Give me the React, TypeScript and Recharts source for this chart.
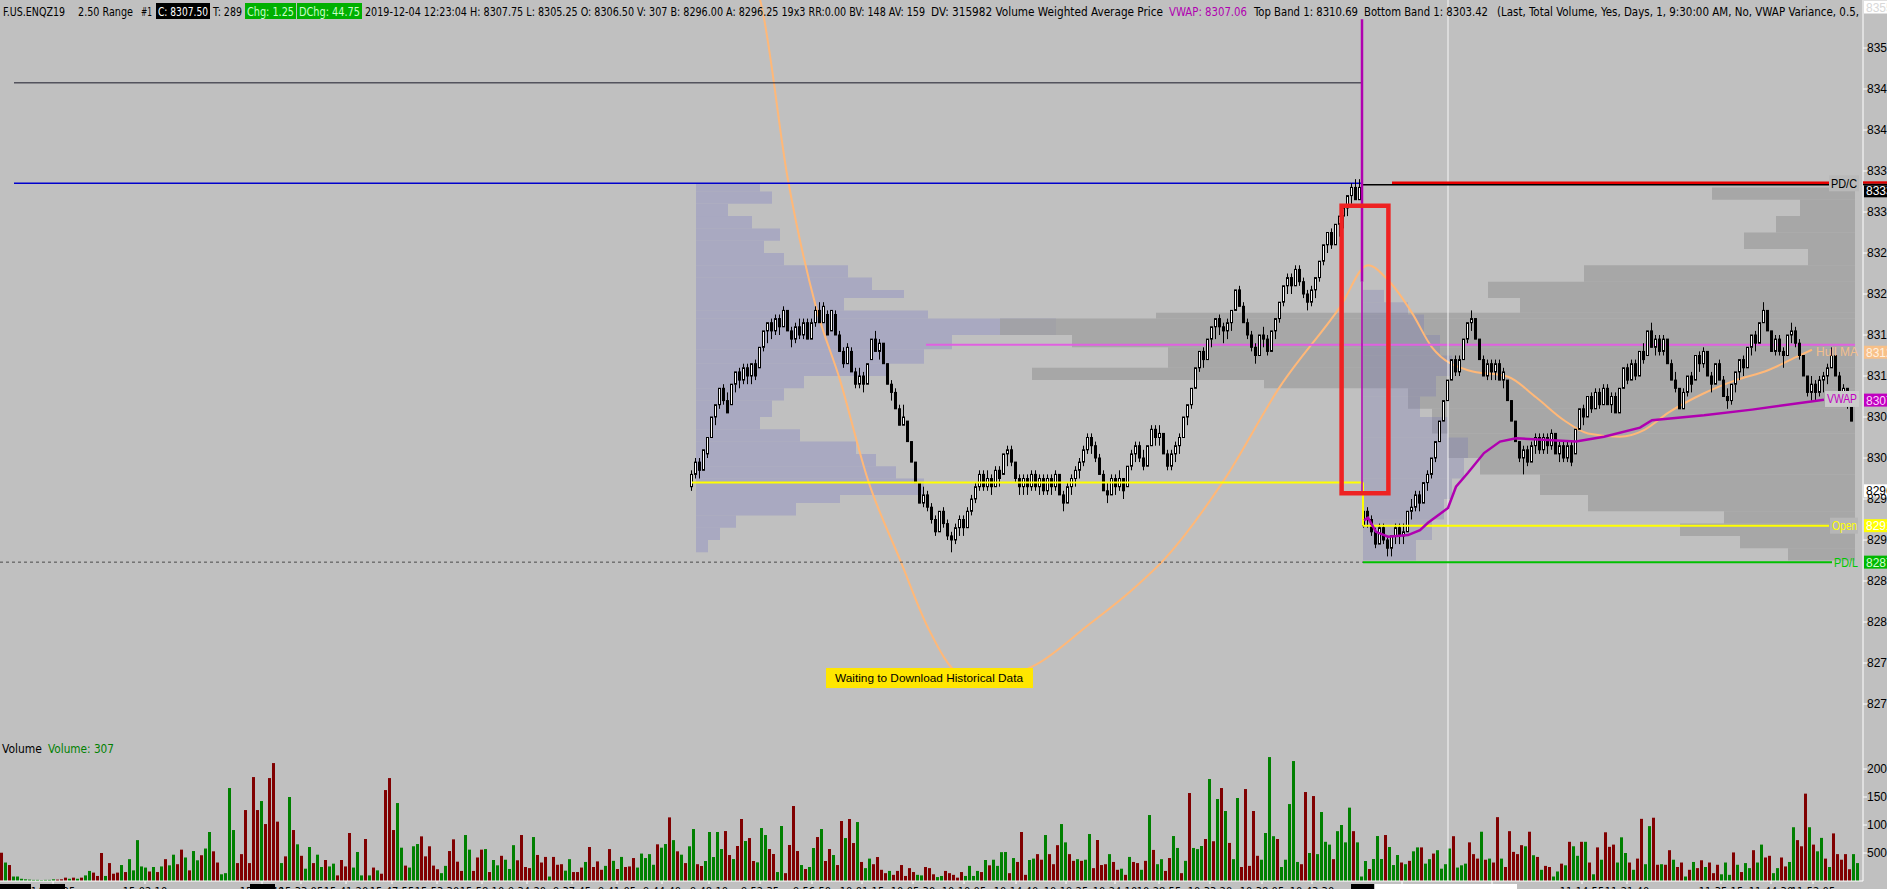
import React from 'react';
import { ComposedChart, Bar, Line, XAxis, YAxis, ReferenceLine, ReferenceArea, ReferenceDot } from 'recharts';

// ---------- layout constants ----------
const CHART_W = 1887;
const PRICE_H = 740;
const VOLUME_H = 149;
const AXIS_FONT = "'Liberation Sans', Arial, sans-serif";
const HEADER_FONT = "'Liberation Sans Narrow', 'DejaVu Sans Condensed', 'Liberation Sans', sans-serif";

// ---------- axes ----------
const slotDomain: [number, number] = [0, 465.75];
const priceDomain: [number, number] = [8265.61, 8355.854];
const volumeDomain: [number, number] = [0, 2517.86];
const priceTicks = [8270, 8275, 8280, 8285, 8290, 8295, 8300, 8305, 8310, 8315, 8320, 8325, 8330, 8335, 8340, 8345, 8350];
const volumeTicks = [500, 1000, 1500, 2000];
const timeTickSlots = [13.25, 36.25, 65.5, 75.25, 86.5, 98, 109.25, 120.5, 131.75, 143, 154.25, 165.5, 177.25, 190, 203, 215.5, 228.25, 241, 254, 266.5, 278.75, 289.75, 302.5, 315.5, 328, 350.5, 373, 395.5, 406.75, 430.25, 442.75, 453.25];
const timeTickLabels = ['14:45:35', '15:02:10', '15:21:40', '15:33:05', '15:41:20', '15:47:55', '15:53:30', '15:58:10', '9:34:20', '9:37:45', '9:41:05', '9:44:40', '9:48:10', '9:52:35', '9:56:50', '10:01:15', '10:05:30', '10:10:05', '10:14:40', '10:19:25', '10:24:10', '10:28:55', '10:33:20', '10:38:05', '10:43:30', '10:52:45', '11:03:20', '11:14:55', '11:21:40', '11:35:15', '11:44:30', '11:52:05'];

// ---------- 2.50 range bars [open, high, low, close] ----------
const firstCandleSlot = 173;
const rangeBars: [number, number, number, number][] = [
  [8296.5,8298.5,8296,8298],[8298,8300,8297.5,8299.5],[8299.5,8300,8297.5,8298.5],[8298.5,8301,8298.5,8301],[8300.5,8302.5,8300,8302.5],[8302.5,8305,8302.5,8305],
  [8305,8306.5,8304,8306.5],[8306.5,8308.5,8306,8308.5],[8308.5,8309,8306.5,8307],[8307,8308,8305.5,8305.5],[8306.5,8309,8306.5,8309],[8309,8310.5,8308,8310.5],
  [8310.5,8311,8308.5,8309.5],[8309.5,8311.5,8309,8311],[8311,8311.5,8309,8310],[8310,8311.5,8309,8311.5],[8311.5,8312,8309.5,8310],[8311,8313.5,8311,8313.5],
  [8313.5,8315.5,8313,8315.5],[8315.5,8316.5,8314,8316.5],[8316.5,8317,8314.5,8315.5],[8315.5,8317.5,8315,8317],[8317,8317.5,8315,8316],[8316,8318.5,8316,8318],
  [8318,8318,8315.5,8315.5],[8315.5,8316,8313.5,8314.5],[8314.5,8316.5,8314,8316],[8316,8317,8314.5,8315],[8315,8317,8314.5,8316.5],[8316.5,8317,8314.5,8314.5],
  [8314.5,8317,8314.5,8316.5],[8316.5,8318.5,8316,8318],[8318,8319,8316.5,8316.5],[8316.5,8319,8316.5,8318.5],[8317.5,8318,8315,8315],[8315.5,8318,8315.5,8318],
  [8317.5,8318,8315,8315],[8315,8315.5,8313,8313],[8313,8313.5,8311,8311.5],[8311.5,8314,8311.5,8313.5],[8313,8313.5,8310.5,8310.5],[8310.5,8311,8308.5,8309],
  [8309,8311,8308.5,8310],[8310,8310.5,8308,8309],[8309,8311.5,8309,8311.5],[8312,8314.5,8312,8314.5],[8314.5,8315.5,8313,8313],[8313,8314.5,8312,8314],
  [8314,8314,8311.5,8311.5],[8311.5,8311.5,8309,8309],[8309,8309.5,8307,8308],[8308,8308.5,8306,8306],[8306,8306.5,8304,8304],[8304,8306.5,8304,8305],
  [8304.5,8304.5,8302,8302],[8302,8302,8299.5,8299.5],[8299.5,8299.5,8297,8297],[8297,8297,8294.5,8294.5],[8294.5,8296.5,8294,8295.5],[8295.5,8296,8293.5,8294],
  [8294,8294.5,8292,8292.5],[8292.5,8293,8290.5,8291],[8291,8293.5,8291,8293.5],[8293.5,8294,8291.5,8292],[8292,8292.5,8290,8290.5],[8290.5,8291,8288.5,8290],
  [8290,8292,8289.5,8291.5],[8291.5,8293,8290.5,8292.5],[8292.5,8293,8290.5,8291.5],[8291.5,8294,8291.5,8293.5],[8293.5,8295.5,8293,8295],[8295,8297,8294.5,8296.5],
  [8296.5,8298.5,8296,8298],[8298,8298.5,8296,8296.5],[8296.5,8298.5,8296,8297.5],[8297.5,8298,8295.5,8296.5],[8296.5,8299,8296.5,8298.5],[8298.5,8299,8296.5,8297.5],
  [8298,8300.5,8298,8300.5],[8300.5,8301.5,8299,8301],[8301,8301.5,8299,8299.5],[8299.5,8299.5,8297,8297.5],[8297.5,8298,8295.5,8296.5],[8296.5,8298,8295.5,8297.5],
  [8297.5,8298,8295.5,8296.5],[8296.5,8298.5,8296,8298],[8298,8298.5,8296,8296.5],[8296.5,8298,8295.5,8297.5],[8297.5,8298,8295.5,8296],[8296,8298,8295.5,8297.5],
  [8297.5,8298,8295.5,8296.5],[8296.5,8298.5,8296,8298],[8298,8298,8295.5,8295.5],[8295.5,8296,8293.5,8294.5],[8294.5,8297,8294.5,8296.5],[8296.5,8298,8295.5,8297.5],
  [8297.5,8299,8296.5,8298.5],[8298.5,8300,8297.5,8299.5],[8299.5,8301.5,8299,8301],[8301,8303,8300.5,8302.5],[8302.5,8303,8300.5,8301.5],[8301.5,8302,8299.5,8300],
  [8300,8300.5,8298,8298],[8298,8298.5,8296,8296],[8296,8297,8294.5,8295.5],[8295.5,8298,8295.5,8297.5],[8297.5,8298,8295.5,8296.5],[8296.5,8298.5,8296,8297.5],
  [8297.5,8297.5,8295,8296],[8296.5,8299,8296.5,8299],[8299,8301,8298.5,8300.5],[8300.5,8302,8299.5,8301.5],[8301.5,8302,8299.5,8300],[8300,8301,8298.5,8299],
  [8299,8301.5,8299,8301.5],[8301.5,8304,8301.5,8303.5],[8303.5,8304,8301.5,8302.5],[8302.5,8304,8301.5,8303],[8303,8303,8300.5,8300.5],[8300.5,8301,8298.5,8299],
  [8299,8301,8298.5,8300.5],[8300.5,8302,8299.5,8301.5],[8301.5,8303,8300.5,8302.5],[8302.5,8305,8302.5,8305],[8305,8306.5,8304,8306.5],[8306.5,8308.5,8306,8308.5],
  [8308.5,8311,8308.5,8311],[8311,8313,8310.5,8313],[8313,8313.5,8311,8312],[8312,8314.5,8312,8314.5],[8314.5,8316,8313.5,8316],[8316,8317,8314.5,8317],
  [8317,8317.5,8315,8316],[8316,8316.5,8314,8315.5],[8315.5,8317,8314.5,8316.5],[8316.5,8318,8315.5,8318],[8318,8320.5,8318,8320.5],[8320.5,8321,8318.5,8318.5],
  [8318.5,8319,8316.5,8316.5],[8316.5,8317,8314.5,8315],[8315,8315.5,8313,8313.5],[8313.5,8314,8311.5,8312.5],[8312.5,8315,8312.5,8315],[8315,8316,8313.5,8314.5],
  [8314.5,8315,8312.5,8313],[8313,8315.5,8313,8315.5],[8315.5,8317,8314.5,8317],[8317,8319,8316.5,8319],[8319,8321,8318.5,8321],[8321,8322.5,8320,8322],
  [8322,8322.5,8320,8321],[8321,8323.5,8321,8323],[8323,8323.5,8321,8321.5],[8321.5,8322,8319.5,8320],[8320,8320.5,8318,8319],[8319,8321,8318.5,8320.5],
  [8320.5,8322,8319.5,8322],[8322,8324,8321.5,8324],[8324,8326,8323.5,8326],[8326,8327.5,8325,8327.5],[8327.5,8328,8325.5,8326],[8326,8328.5,8326,8328.5],
  [8328.5,8329.5,8327,8329.5],[8329.5,8330.5,8328,8330.5],[8330.5,8332,8329.5,8332],[8332,8333.5,8331,8333],[8333,8334,8331.5,8331.5],[8331.5,8334,8331.5,8333],
  [8291.75,8294,8291.5,8293.5],[8293.5,8294,8291.5,8292.5],[8292.5,8293,8290.5,8291],[8291,8291.5,8289,8289.5],[8289.5,8292,8289.5,8291.5],[8291.5,8292,8289.5,8290],
  [8290,8290.5,8288,8289],[8289,8290.5,8288,8290.5],[8290.5,8292,8289.5,8291.5],[8291.5,8292,8289.5,8290.5],[8290.5,8292,8289.5,8291],[8291,8293.5,8291,8293.5],
  [8293.5,8295,8292.5,8294],[8294,8296,8293.5,8295.5],[8295.5,8296,8293.5,8294.5],[8294.5,8297,8294.5,8297],[8297,8298.5,8296,8298],[8298,8300,8297.5,8300],
  [8300,8302,8299.5,8302],[8302,8304.5,8302,8304.5],[8304.5,8307,8304.5,8307],[8307,8309.5,8307,8309.5],[8309.5,8312,8309.5,8312],[8312,8312.5,8310,8310.5],
  [8310.5,8312.5,8310,8312],[8312,8314.5,8312,8314.5],[8314.5,8316.5,8314,8316.5],[8316.5,8318,8315.5,8317],[8317,8317,8314.5,8314.5],[8314.5,8314.5,8312,8312],
  [8312,8312.5,8310,8310],[8310,8312,8309.5,8311.5],[8311.5,8312,8309.5,8310.5],[8310.5,8312,8309.5,8311.5],[8311.5,8312,8309.5,8309.5],[8309.5,8311,8308.5,8310.5],
  [8309.5,8309.5,8307,8307],[8307,8307,8304.5,8304.5],[8304.5,8304.5,8302,8302],[8302,8302,8299.5,8300],[8300,8301.5,8298,8301],[8301,8301.5,8299,8299.5],
  [8299.5,8302,8299.5,8301.5],[8301.5,8303,8300.5,8302.5],[8302.5,8303,8300.5,8301],[8301,8303,8300.5,8302.5],[8302.5,8303,8300.5,8301.5],[8301.5,8303.5,8301,8303],
  [8303,8303,8300.5,8300.5],[8300.5,8302,8299.5,8301.5],[8301.5,8302,8299.5,8300],[8300,8302,8299.5,8301.5],[8301.5,8302,8299,8299.5],[8300.5,8303.5,8300.5,8303.5],
  [8303.5,8306,8303.5,8306],[8306,8306.5,8304,8305],[8305,8307.5,8305,8307.5],[8307.5,8308,8305.5,8306],[8306,8308.5,8306,8308],[8308,8308.5,8306,8306.5],
  [8306.5,8309,8306.5,8308.5],[8308.5,8309,8306.5,8306.5],[8306.5,8308,8305.5,8307.5],[8307.5,8308,8305.5,8305.5],[8305.5,8308.5,8305.5,8308.5],[8308.5,8311,8308.5,8311],
  [8311,8311.5,8309,8309.5],[8309.5,8312,8309.5,8311.5],[8311.5,8312,8309.5,8310],[8310,8313,8310,8313],[8313,8314,8311.5,8312],[8312.5,8315.5,8312.5,8315.5],
  [8315.5,8316.5,8313.5,8313.5],[8313.5,8315,8312.5,8314.5],[8314.5,8315,8312.5,8313],[8313,8315,8312.5,8314.5],[8314.5,8314.5,8311.5,8311.5],[8311.5,8312,8309.5,8309.5],
  [8309.5,8310.5,8308,8308.5],[8308.5,8308.5,8306,8306],[8306,8308.5,8306,8308],[8308,8310,8307.5,8310],[8310,8310.5,8308,8309],[8309.5,8312.5,8309.5,8312.5],
  [8312.5,8313,8310.5,8311.5],[8311.5,8313.5,8311,8313],[8313,8313,8310,8310],[8310,8310.5,8308,8309],[8309,8311.5,8309,8311.5],[8311.5,8312,8309.5,8309.5],
  [8309.5,8310,8307.5,8307.5],[8307.5,8308.5,8306,8307],[8307,8309,8306.5,8309],[8309,8310.5,8308,8310.5],[8310.5,8312,8309.5,8312],[8312,8312.5,8310,8311],
  [8311,8313.5,8311,8313.5],[8313.5,8315,8312.5,8315],[8315,8315.5,8313,8314],[8314,8316.5,8314,8316.5],[8316.5,8319,8316.5,8318],[8318,8318,8315.5,8315.5],
  [8315.5,8315.5,8313,8313],[8313,8315,8312.5,8314.5],[8314.5,8315,8312.5,8313],[8313,8313.5,8311,8312.5],[8312.5,8315,8312.5,8315],[8315,8316.5,8314,8315.5],
  [8315.5,8316,8313.5,8314],[8314,8314.5,8312,8312.5],[8312.5,8312.5,8310,8310],[8310,8310,8307.5,8308],[8308,8310,8307,8309],[8309,8309.5,8307,8308],
  [8308,8310,8307.5,8309.5],[8309.5,8310.5,8308,8310],[8310,8311.5,8309,8311],[8311,8313.5,8311,8312.5],[8312.5,8312.5,8310,8310],[8310,8310.5,8308,8308],
  [8308,8309,8306.5,8308.5],[8308.5,8308.5,8306,8307],[8307,8307.5,8304.5,8304.5],
];

// ---------- volume per slot (positive = up bar, negative = down bar) ----------
const volumeBars = [
  -505,330,-285,80,80,40,30,25,20,20,
  15,20,20,30,-25,-30,-60,40,-60,40,
  -60,100,180,-150,-90,-500,90,-320,-130,-150,
  285,-160,390,190,730,260,240,-170,250,-160,
  260,-390,280,470,-300,-560,420,-190,535,370,
  -460,580,875,-530,-330,120,140,1660,910,-320,
  -480,-1267,-320,-1856,-1267,1428,-1017,-1838,-2106,-1060,
  320,-440,1500,-910,655,-450,220,607,-320,470,
  250,-375,260,310,-100,-375,-260,-857,240,518,
  100,-750,100,-240,190,-130,-1624,-1838,-910,1392,
  595,-275,240,620,660,-797,-440,-620,-275,-210,
  140,270,-535,-744,-345,-180,821,560,-180,-420,
  -560,570,-160,375,280,-450,380,215,640,-370,
  -821,-250,-230,785,-465,-330,-430,80,-430,-290,
  -300,185,390,-160,-160,-240,340,-607,-250,-350,
  -200,270,-570,360,-214,430,-250,-260,-410,240,
  490,410,480,290,-655,595,660,-1136,730,-530,
  470,-320,620,928,-300,-268,357,875,428,875,
  571,-892,-464,392,-625,-1107,714,-767,-357,333,
  946,821,-571,-482,160,982,-140,-643,-1339,-535,
  285,-214,250,589,-785,928,-357,-571,464,-285,
  -1071,767,-1107,-678,1053,-340,230,400,-300,-428,
  -200,-140,180,-110,-180,-285,-90,-230,-160,110,
  100,-250,-230,-120,70,90,-180,-140,-110,-60,
  -160,90,270,90,180,-160,375,-280,380,270,
  515,518,-140,410,-340,-875,-110,375,400,-480,
  -380,821,-480,-300,-640,1017,690,-480,-360,390,
  -360,380,839,-230,-732,-285,-300,480,-340,-200,
  220,-110,430,-340,-320,200,-360,1178,-555,300,
  390,-180,-410,803,590,-140,360,-1571,590,570,
  625,-750,1821,-710,1464,-1660,1250,-680,390,1482,
  -250,-1642,-270,-1250,-450,380,857,2213,800,-750,
  250,380,1374,2142,340,-300,-1589,500,-1517,480,
  1232,700,650,-390,890,1000,690,1310,-890,690,
  80,357,-214,393,803,393,-821,607,285,464,
  -330,300,-360,530,600,-600,310,390,-490,550,
  220,300,580,-800,240,280,310,-690,-480,-400,
  880,-380,400,-330,-1140,400,-250,-890,-520,-480,
  -640,620,-880,460,-430,200,-270,-250,80,170,
  -310,280,-700,620,450,-700,700,-330,120,-600,
  380,-870,-610,-650,330,780,500,-330,200,-400,
  -1110,300,980,-1130,-290,300,-290,-550,380,-250,
  -330,80,-200,340,-230,-370,250,-330,-140,-290,
  120,330,110,-510,290,-160,320,230,-550,330,
  650,-420,-450,140,230,-420,-260,340,960,-730,
  -620,-1560,960,-650,530,770,-400,250,-850,-480,
  -380,-480,-210,480,320,
];

// ---------- Hull MA and VWAP [slot, price] ----------
const hullPoints: [number, number][] = [
  [183, 8362], [190, 8355.9], [197, 8333.9], [204, 8318.4], [210, 8309.5], [217, 8297.3], [225, 8287.6], [232, 8279.3], [240, 8273.6], [247, 8272.9],
  [259, 8274.8], [272, 8279.6], [283, 8283.9], [291, 8287.6], [306, 8297.3], [320, 8308.7], [335, 8318.4], [342, 8323.5], [347, 8321.7], [353, 8317.7],
  [358, 8313.5], [367, 8310.7], [377, 8309.9], [384, 8307.4], [391, 8304.6], [397, 8303.0], [405, 8302.6], [411, 8303.4], [417, 8305.5], [426, 8307.9],
  [434, 8309.5], [442, 8310.7], [449, 8312.3], [453, 8313.2],
];
const vwapPoints: [number, number][] = [
  [341, 8292.4], [342, 8292.7], [344, 8291.0], [347, 8290.4], [352, 8290.6], [355, 8291.2], [357, 8292.1], [362, 8293.9], [364, 8296.5], [367, 8298.2],
  [371, 8300.6], [375, 8302.0], [379, 8302.4], [394, 8302.0], [401, 8302.6], [410, 8303.7], [413, 8304.6], [426, 8305.2], [438, 8305.9], [456, 8307.1],
];

// ---------- volume profiles [top price, bottom price, extent slot] ----------
const priorProfileStart = 174;
const priorProfile: [number, number, number][] = [
  [8333.5, 8332.5, 190], [8332.5, 8331, 193], [8331, 8329.5, 182], [8329.5, 8328, 188], [8328, 8326.5, 195], [8326.5, 8325, 191],
  [8325, 8323.5, 196], [8323.5, 8322, 212], [8322, 8320.5, 218], [8320.5, 8319.5, 226], [8319.5, 8318, 211], [8318, 8317, 232],
  [8317, 8315, 264], [8315, 8313.25, 238], [8313.25, 8311.5, 231], [8311.5, 8310, 222], [8310, 8308.5, 201], [8308.5, 8307, 196],
  [8307, 8305, 193], [8305, 8303.5, 190], [8303.5, 8302, 200], [8302, 8300.5, 214], [8300.5, 8299, 219], [8299, 8297.5, 224],
  [8297.5, 8295.5, 231], [8295.5, 8294.5, 210], [8294.5, 8293, 199], [8293, 8291.5, 184], [8291.5, 8290, 180], [8290, 8288.5, 177],
];
const compositeProfileEnd = 463.75;
const compositeProfile: [number, number, number][] = [
  [8333, 8331.5, 428], [8331.5, 8329.5, 450], [8329.5, 8327.5, 444], [8327.5, 8325.5, 436], [8325.5, 8323.5, 452], [8323.5, 8321.5, 396],
  [8321.5, 8319.5, 372], [8319.5, 8317.7, 380], [8317.7, 8317, 289], [8317, 8315, 250], [8315, 8313.5, 268], [8313.5, 8311, 292],
  [8311, 8309.5, 258], [8309.5, 8308.5, 316], [8308.5, 8306, 352], [8306, 8303, 358], [8303, 8300, 362], [8300, 8298, 370],
  [8298, 8295.5, 385], [8295.5, 8293.5, 397], [8293.5, 8292, 431], [8292, 8290.5, 420], [8290.5, 8289, 435], [8289, 8287.5, 447],
];
const sessionProfileStart = 340.75;
const sessionProfile: [number, number, number][] = [
  [8320.5, 8319, 346], [8319, 8317.5, 352], [8317.5, 8315, 356], [8315, 8312.5, 360], [8312.5, 8310, 363], [8310, 8307.5, 359],
  [8307.5, 8305, 355], [8305, 8302.5, 362], [8302.5, 8300, 367], [8300, 8297.5, 366], [8297.5, 8295, 363], [8295, 8292.5, 361],
  [8292.5, 8290, 358], [8290, 8287.5, 354],
];

// ---------- key levels ----------
const levelPriorHigh = 8345.75;
const levelPDC = 8333.5;
const levelHullBand = 8313.8;
const levelPriorOpen = 8297;
const levelOpen = 8291.75;
const levelPDL = 8287.3;
const sessionBreakSlot = 340.5;
const cursorSlot = 362;

// ---------- tables built for recharts ----------
const priceRows: any[] = Array.from({ length: 466 }, (_, x) => ({ x }));
rangeBars.forEach(([o, h, l, c], i) => {
  Object.assign(priceRows[firstCandleSlot + i], { o, h, l, c, range: [l, h] });
});
hullPoints.forEach(([x, p]) => { priceRows[x].hull = p; });
vwapPoints.forEach(([x, p]) => { priceRows[x].vwap = p; });
const volumeRows = volumeBars.map((v, s) => ({ x: s + 0.5, vol: Math.abs(v), up: v > 0 }));

// ---------- shapes ----------
function CandleShape(props: any) {
  const { x, y, width, height, payload } = props;
  if (!payload || payload.o == null || !Number.isFinite(y) || !Number.isFinite(height) || height <= 0) return null;
  const { o, h, l, c } = payload;
  const k = height / (h - l);
  const cx = x + width / 2;
  const top = y + (h - Math.max(o, c)) * k;
  const bh = Math.max(1, Math.abs(c - o) * k);
  const up = c >= o;
  return (
    <g>
      <line x1={cx} x2={cx} y1={y} y2={y + height} stroke="#000" strokeWidth={1} />
      <rect x={x + 0.5} y={top} width={Math.max(1, width - 1)} height={bh} fill={up ? '#FFFFFF' : '#000000'} stroke="#000" strokeWidth={1} />
    </g>
  );
}

function VolumeShape(props: any) {
  const { x, y, width, height, payload } = props;
  if (!payload || !Number.isFinite(y) || !(height > 0)) return null;
  return <rect x={x} y={y} width={width} height={height} fill={payload.up ? '#008000' : '#800000'} />;
}

const lineTag = (text: string, color: string, bg: string | null, left: number, right: number, textW: number) => (p: any) => {
  const { cx, cy } = p;
  return (
    <g>
      {bg && <rect x={cx - left} y={cy - 8} width={left - right} height={16} fill={bg} />}
      <text x={cx - left + 2} y={cy + 4.5} fill={color} fontSize={13} fontFamily={AXIS_FONT} textLength={textW} lengthAdjust="spacingAndGlyphs">{text}</text>
    </g>
  );
};

const axisTag = (text: string, bg: string, fg: string, dy = 0) => (p: any) => {
  const { cx, cy } = p;
  return (
    <g>
      <rect x={cx + 1} y={cy - 6.5 + dy} width={24} height={13} fill={bg} />
      <text x={cx + 3} y={cy + 4.5 + dy} fill={fg} fontSize={12} fontFamily={AXIS_FONT}>{text}</text>
    </g>
  );
};

const pdcAxisTag = (p: any) => {
  const { cx, cy } = p;
  return (
    <g>
      <rect x={cx} y={cy - 2} width={24} height={2.5} fill="#E00000" />
      <rect x={cx} y={cy + 0.5} width={24} height={1.5} fill="#000" />
      <rect x={cx + 1} y={cy + 2} width={24} height={12} fill="#000" />
      <text x={cx + 3} y={cy + 12} fill="#FFFFFF" fontSize={12} fontFamily={AXIS_FONT}>8333</text>
    </g>
  );
};

const headerSegments = [
  { x: 3, w: 62, text: 'F.US.ENQZ19', color: '#000' },
  { x: 78, w: 55, text: '2.50 Range', color: '#000' },
  { x: 141, w: 11, text: '#1', color: '#000' },
  { x: 158, w: 50, text: 'C: 8307.50', color: '#FFFFFF' },
  { x: 213, w: 29, text: 'T: 289', color: '#000' },
  { x: 247, w: 47, text: 'Chg: 1.25', color: '#C8FFC8' },
  { x: 299, w: 61, text: 'DChg: 44.75', color: '#C8FFC8' },
  { x: 365, w: 560, text: '2019-12-04 12:23:04 H: 8307.75 L: 8305.25 O: 8306.50 V: 307 B: 8296.00 A: 8296.25 19x3 RR:0.00 BV: 148 AV: 159', color: '#000' },
  { x: 931, w: 232, text: 'DV: 315982 Volume Weighted Average Price', color: '#000' },
  { x: 1169, w: 78, text: 'VWAP: 8307.06', color: '#B000B0' },
  { x: 1254, w: 104, text: 'Top Band 1: 8310.69', color: '#000' },
  { x: 1364, w: 124, text: 'Bottom Band 1: 8303.42', color: '#000' },
  { x: 1497, w: 362, text: '(Last, Total Volume, Yes, Days, 1, 9:30:00 AM, No, VWAP Variance, 0.5,', color: '#000' },
];

export default function App() {
  const axisTick = { fill: '#000', fontSize: 12, fontFamily: AXIS_FONT };
  const timeTick = { fill: '#000', fontSize: 11, fontFamily: HEADER_FONT };
  return (
    <div style={{ position: 'fixed', left: 0, top: 0, width: CHART_W, height: 889, background: '#C0C0C0', overflow: 'hidden' }}>
      <div style={{ position: 'absolute', left: 0, top: 0 }}>
        <ComposedChart width={CHART_W} height={PRICE_H} data={priceRows} margin={{ top: 0, right: 0, bottom: 0, left: 0 }}>
          <XAxis type="number" dataKey="x" domain={slotDomain} allowDataOverflow hide />
          <YAxis orientation="right" type="number" domain={priceDomain} allowDataOverflow ticks={priceTicks} interval={0} width={24}
            axisLine={{ stroke: '#FFFFFF' }} tickLine={{ stroke: '#FFFFFF' }} tickSize={4} tickMargin={0} tick={axisTick} />

          {priorProfile.map(([t, b, r], i) => (
            <ReferenceArea key={'pp' + i} x1={priorProfileStart} x2={r} y1={b} y2={t} fill="#9F9FC2" fillOpacity={0.7} stroke="none" zIndex={10} />
          ))}
          {compositeProfile.map(([t, b, l], i) => (
            <ReferenceArea key={'cp' + i} x1={l} x2={compositeProfileEnd} y1={b} y2={t} fill="#A0A0A0" fillOpacity={0.78} stroke="none" zIndex={11} />
          ))}
          {sessionProfile.map(([t, b, r], i) => (
            <ReferenceArea key={'sp' + i} x1={sessionProfileStart} x2={r} y1={b} y2={t} fill="#7878B4" fillOpacity={0.3} stroke="none" zIndex={12} />
          ))}

          <Line dataKey="hull" type="monotone" stroke="#FFB878" strokeWidth={2} dot={false} activeDot={false} connectNulls isAnimationActive={false} zIndex={20} />

          <ReferenceLine segment={[{ x: 0, y: levelPDL }, { x: sessionBreakSlot + 0.25, y: levelPDL }]} stroke="#4A4A4A" strokeDasharray="3 3" strokeWidth={1} zIndex={30} />
          <ReferenceLine segment={[{ x: 3.5, y: levelPriorHigh }, { x: sessionBreakSlot, y: levelPriorHigh }]} stroke="#1A1A2A" strokeWidth={1} zIndex={30} />
          <ReferenceLine segment={[{ x: 3.5, y: levelPDC }, { x: sessionBreakSlot, y: levelPDC }]} stroke="#0000CC" strokeWidth={1.5} zIndex={30} />
          <ReferenceLine segment={[{ x: 231.5, y: levelHullBand }, { x: 463.75, y: levelHullBand }]} stroke="#E060E0" strokeWidth={2} zIndex={30} />
          <ReferenceLine x={cursorSlot} stroke="#F6F6F6" strokeWidth={1} zIndex={35} />

          <Bar dataKey="range" barSize={3} shape={CandleShape} isAnimationActive={false} zIndex={40} />

          <ReferenceLine segment={[{ x: firstCandleSlot, y: levelPriorOpen }, { x: sessionBreakSlot + 0.25, y: levelPriorOpen }]} stroke="#FFFF00" strokeWidth={2} zIndex={50} />
          <ReferenceLine segment={[{ x: sessionBreakSlot + 0.25, y: levelPriorOpen }, { x: sessionBreakSlot + 0.25, y: levelOpen }]} stroke="#FFFF00" strokeWidth={2} zIndex={50} />
          <ReferenceLine segment={[{ x: sessionBreakSlot + 0.25, y: levelOpen }, { x: 457.25, y: levelOpen }]} stroke="#FFFF00" strokeWidth={2} zIndex={50} />
          <ReferenceLine segment={[{ x: sessionBreakSlot + 0.25, y: levelPDL }, { x: 458, y: levelPDL }]} stroke="#00C000" strokeWidth={2} zIndex={50} />
          <ReferenceLine segment={[{ x: sessionBreakSlot, y: 8333.32 }, { x: 463.75, y: 8333.32 }]} stroke="#000000" strokeWidth={1.5} zIndex={50} />
          <ReferenceLine segment={[{ x: 348, y: 8333.58 }, { x: 463.75, y: 8333.58 }]} stroke="#E80000" strokeWidth={2.5} zIndex={51} />

          <Line dataKey="vwap" type="linear" stroke="#B000B0" strokeWidth={2.5} dot={false} activeDot={false} connectNulls isAnimationActive={false} zIndex={60} />

          <ReferenceLine segment={[{ x: sessionBreakSlot, y: 8353.5 }, { x: sessionBreakSlot, y: 8321.5 }]} stroke="#B000B0" strokeWidth={2.5} zIndex={65} />
          <ReferenceLine segment={[{ x: sessionBreakSlot, y: 8321.5 }, { x: sessionBreakSlot, y: 8295.7 }]} stroke="#B000B0" strokeWidth={1.5} zIndex={65} />

          <ReferenceArea x1={335.4} x2={347.1} y1={8295.7} y2={8330.75} fill="none" fillOpacity={0} stroke="#EE2222" strokeWidth={4.5} ifOverflow="visible" zIndex={70} />

          <ReferenceDot x={slotDomain[1]} y={levelPDC} r={1} ifOverflow="visible" shape={lineTag('PD/C', '#000000', '#B9B9B9', 34, 4, 26)} zIndex={600} />
          <ReferenceDot x={slotDomain[1]} y={8313.0} r={1} ifOverflow="visible" shape={lineTag('Hull MA', '#F2BE8E', null, 49, 4, 42)} zIndex={600} />
          <ReferenceDot x={slotDomain[1]} y={8307.2} r={1} ifOverflow="visible" shape={lineTag('VWAP', '#C000C0', '#CBCBCB', 38, 4, 30)} zIndex={600} />
          <ReferenceDot x={slotDomain[1]} y={levelOpen} r={1} ifOverflow="visible" shape={lineTag('Open', '#FFFF00', '#B6B6B6', 33, 5, 25)} zIndex={600} />
          <ReferenceDot x={slotDomain[1]} y={levelPDL} r={1} ifOverflow="visible" shape={lineTag('PD/L', '#00C800', null, 31, 4, 24)} zIndex={600} />

          <ReferenceDot x={slotDomain[1]} y={8355} r={1} ifOverflow="visible" shape={axisTag('8355', '#FFFFFF', '#D8D8D8')} zIndex={600} />
          <ReferenceDot x={slotDomain[1]} y={levelPDC} r={1} ifOverflow="visible" shape={pdcAxisTag} zIndex={600} />
          <ReferenceDot x={slotDomain[1]} y={8312.9} r={1} ifOverflow="visible" shape={axisTag('8312', '#F8C088', '#FFF0E0')} zIndex={600} />
          <ReferenceDot x={slotDomain[1]} y={8307.06} r={1} ifOverflow="visible" shape={axisTag('8307', '#C000C0', '#FFD0FF')} zIndex={600} />
          <ReferenceDot x={slotDomain[1]} y={8296} r={1} ifOverflow="visible" shape={axisTag('8296', '#FFFFFF', '#000000')} zIndex={600} />
          <ReferenceDot x={slotDomain[1]} y={levelOpen} r={1} ifOverflow="visible" shape={axisTag('8291', '#FFFF00', '#FFFFFF')} zIndex={600} />
          <ReferenceDot x={slotDomain[1]} y={levelPDL} r={1} ifOverflow="visible" shape={axisTag('8287', '#00B800', '#D0FFD0')} zIndex={600} />
        </ComposedChart>
      </div>

      <div style={{ position: 'absolute', left: 0, top: PRICE_H }}>
        <ComposedChart width={CHART_W} height={VOLUME_H} data={volumeRows} margin={{ top: 0, right: 0, bottom: 0, left: 0 }}>
          <XAxis type="number" dataKey="x" domain={slotDomain} allowDataOverflow ticks={timeTickSlots} interval={0} height={8}
            tickFormatter={(v: number, i: number) => timeTickLabels[i] ?? ''}
            axisLine={{ stroke: '#FFFFFF' }} tickLine={{ stroke: '#FFFFFF' }} tickSize={3} tickMargin={3} tick={timeTick} />
          <YAxis orientation="right" type="number" domain={volumeDomain} allowDataOverflow ticks={volumeTicks} interval={0} width={24}
            axisLine={{ stroke: '#FFFFFF' }} tickLine={{ stroke: '#FFFFFF' }} tickSize={4} tickMargin={0} tick={axisTick} />
          <Bar dataKey="vol" barSize={3} shape={VolumeShape} isAnimationActive={false} />
          <ReferenceLine x={cursorSlot} stroke="#F6F6F6" strokeWidth={1} />
        </ComposedChart>
      </div>

      <svg width={CHART_W} height={889} style={{ position: 'absolute', left: 0, top: 0, pointerEvents: 'none' }}>
        <rect x={156} y={3} width={54} height={16} fill="#000000" />
        <rect x={245} y={3} width={51} height={16} fill="#00B000" />
        <rect x={297} y={3} width={65} height={16} fill="#00B000" />
        {headerSegments.map((s, i) => (
          <text key={i} x={s.x} y={15.5} fill={s.color} fontSize={12} fontFamily={HEADER_FONT} textLength={s.w} lengthAdjust="spacingAndGlyphs">{s.text}</text>
        ))}
        <text x={2} y={753} fill="#000" fontSize={12} fontFamily={HEADER_FONT} textLength={40} lengthAdjust="spacingAndGlyphs">Volume</text>
        <text x={48} y={753} fill="#008000" fontSize={12} fontFamily={HEADER_FONT} textLength={66} lengthAdjust="spacingAndGlyphs">Volume: 307</text>
        <rect x={826} y={668} width={207} height={20} fill="#FFE600" />
        <text x={835} y={682} fill="#000" fontSize={11} fontFamily={AXIS_FONT} textLength={188} lengthAdjust="spacingAndGlyphs">Waiting to Download Historical Data</text>
        <rect x={0} y={884} width={31} height={5} fill="#000" />
        <rect x={40} y={884} width={25} height={5} fill="#000" />
        <rect x={250} y={884} width={25} height={5} fill="#000" />
        <rect x={1351} y={884} width={23} height={5} fill="#000" />
        <rect x={1375} y={884} width={142} height={5} fill="#FFFFFF" />
      </svg>
    </div>
  );
}
